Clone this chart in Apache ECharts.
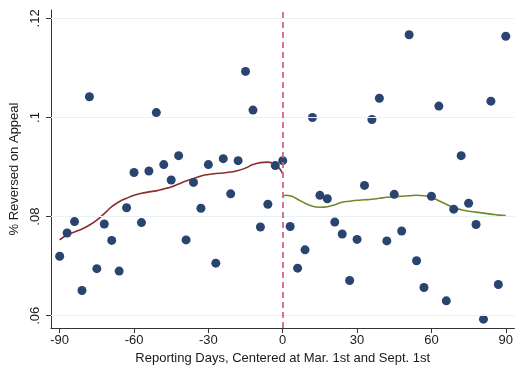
<!DOCTYPE html>
<html>
<head>
<meta charset="utf-8">
<script src="https://cdn.jsdelivr.net/npm/echarts@6/dist/echarts.min.js"></script>
<style>html,body{margin:0;padding:0;background:#fff}#c{width:516px;height:370px}</style>
</head>
<body>
<div id="c"></div>
<script>
// Scatter data: days and % reversed
const leftDays = [-90,-87,-84,-81,-78,-75,-72,-69,-66,-63,-60,-57,-54,-51,-48,-45,-42,-39,-36,-33,-30,-27,-24,-21,-18,-15,-12,-9,-6,-3,0];
const leftVals = [0.0720,0.0767,0.0790,0.0651,0.1042,0.0695,0.0785,0.0752,0.0690,0.0818,0.0889,0.0788,0.0892,0.1010,0.0905,0.0874,0.0923,0.0753,0.0869,0.0817,0.0905,0.0706,0.0917,0.0846,0.0913,0.1093,0.1015,0.0779,0.0825,0.0903,0.0913];
const rightDays = [3,6,9,12,15,18,21,24,27,30,33,36,39,42,45,48,51,54,57,60,63,66,69,72,75,78,81,84,87,90];
const rightVals = [0.0780,0.0696,0.0733,0.1000,0.0843,0.0836,0.0789,0.0765,0.0671,0.0754,0.0863,0.0996,0.1039,0.0751,0.0845,0.0771,0.1167,0.0711,0.0657,0.0841,0.1023,0.0630,0.0815,0.0923,0.0827,0.0784,0.0593,0.1033,0.0663,0.1164];
// Smoothed fits
const fitLeftDays = [-90,-87,-84,-81,-78,-75,-72,-69,-66,-63,-60,-57,-54,-51,-48,-45,-42,-39,-36,-33,-30,-27,-24,-21,-18,-15,-12,-9,-6,-3,-1,0];
const fitLeftVals = [0.0753,0.0763,0.0769,0.0775,0.0783,0.0793,0.0806,0.0820,0.0830,0.0837,0.0843,0.0847,0.0850,0.0852,0.0856,0.0860,0.0866,0.0872,0.0877,0.0882,0.0885,0.0887,0.0888,0.0890,0.0893,0.0898,0.0905,0.0909,0.0910,0.0905,0.0895,0.0886];
const fitRightDays = [0,1,3,6,9,12,15,18,21,24,27,30,33,36,39,42,45,48,51,54,57,60,63,66,69,72,75,78,81,84,87,90];
const fitRightVals = [0.0838,0.0843,0.0842,0.0835,0.0827,0.0821,0.0819,0.0820,0.0824,0.0829,0.0831,0.0833,0.0834,0.0835,0.0837,0.0839,0.0840,0.0841,0.0842,0.0843,0.0842,0.0839,0.0832,0.0825,0.0818,0.0814,0.0811,0.0809,0.0807,0.0805,0.0803,0.0802];
const xTicks = [-90,-60,-30,0,30,60,90];
const yTicks = [0.06,0.08,0.1,0.12];
const cutoff = 0;

const zip = (a,b) => a.map((v,i)=>[v,b[i]]);
const chart = echarts.init(document.getElementById('c'), null, {renderer:'canvas'});
const font = 'Liberation Sans, Arial, Helvetica, sans-serif';
chart.setOption({
  animation:false,
  backgroundColor:'#fff',
  grid:{left:51, right:1, top:10, bottom:40, containLabel:false},
  xAxis:{
    type:'value', min:-93.5, max:93.5,
    name:'Reporting Days, Centered at Mar. 1st and Sept. 1st',
    nameLocation:'middle', nameGap:19,
    nameTextStyle:{fontFamily:font, fontSize:13, color:'#1a1a1a'},
    axisLine:{show:true, onZero:false, lineStyle:{color:'#333', width:1}},
    axisTick:{show:true, length:5, customValues:xTicks, lineStyle:{color:'#333'}},
    axisLabel:{customValues:xTicks, fontFamily:font, fontSize:13, color:'#1a1a1a', margin:6},
    splitLine:{show:false}
  },
  yAxis:{
    type:'value', min:0.0575, max:0.1217,
    name:'% Reversed on Appeal',
    nameLocation:'middle', nameGap:20, nameRotate:90,
    nameTextStyle:{fontFamily:font, fontSize:13, color:'#1a1a1a'},
    axisLine:{show:true, onZero:false, lineStyle:{color:'#333', width:1}},
    axisTick:{show:true, length:5, customValues:yTicks, lineStyle:{color:'#333'}},
    axisLabel:{customValues:yTicks, rotate:90, fontFamily:font, fontSize:13, color:'#1a1a1a', margin:9,
      formatter:v=>String(+v.toFixed(3)).replace(/^0\./,'.')},
    splitLine:{show:false}
  },
  series:[
    {type:'line', data:[], silent:true,
     markLine:{symbol:'none', silent:true, label:{show:false},
       lineStyle:{color:'#eaf1f1', type:'solid', width:1},
       data:yTicks.map(v=>({yAxis:v}))}},
    {type:'line', data:zip(fitLeftDays,fitLeftVals), smooth:true, showSymbol:false,
     lineStyle:{color:'#8c2d2d', width:1.6}, z:3},
    {type:'line', data:zip(fitRightDays,fitRightVals), smooth:true, showSymbol:false,
     lineStyle:{color:'#6e8a2a', width:1.6}, z:3},
    {type:'scatter', data:zip(leftDays,leftVals).concat(zip(rightDays,rightVals)),
     symbolSize:9, itemStyle:{color:'#2a4470', opacity:1}, z:4,
     markLine:{symbol:'none', silent:true, label:{show:false},
       lineStyle:{color:'#d4648a', type:[6,4], width:1.8},
       data:[{xAxis:cutoff}]}}
  ]
});
</script>
</body>
</html>
